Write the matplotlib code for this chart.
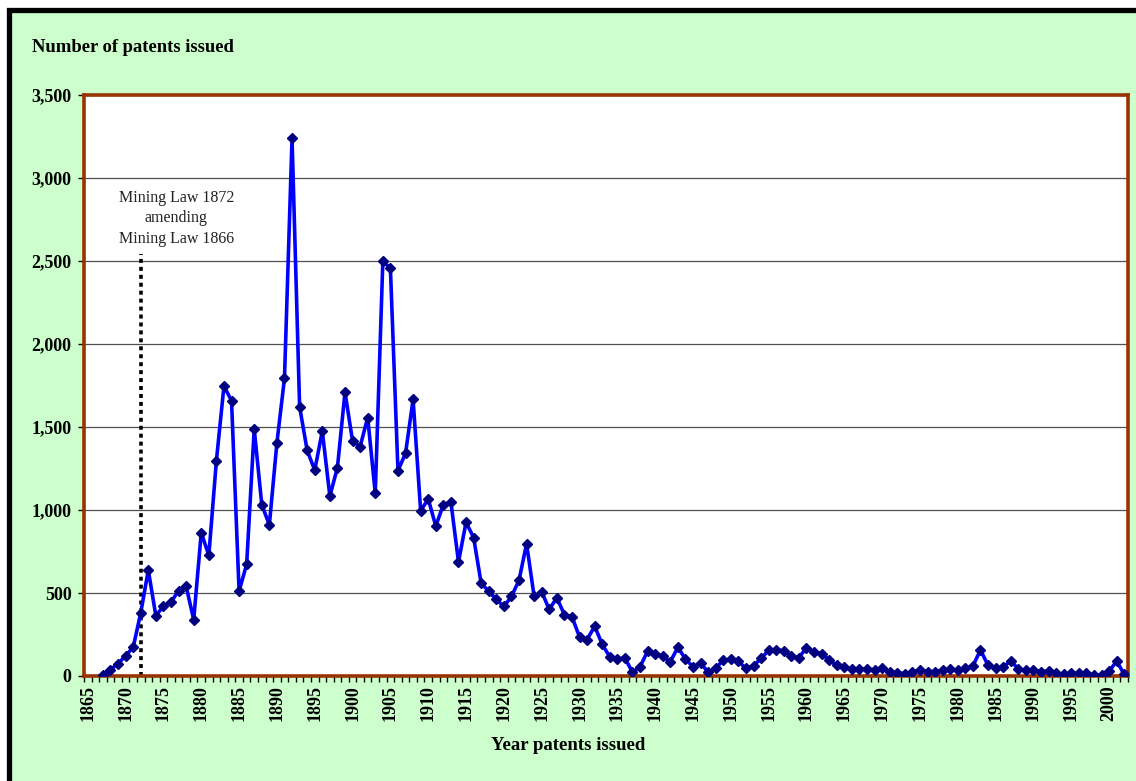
import matplotlib
matplotlib.use("Agg")
import matplotlib.pyplot as plt
from matplotlib.patches import Rectangle
from matplotlib.ticker import FixedLocator, FuncFormatter

# ---- data ----
years = list(range(1867, 2003))
patents = [
    7, 39, 74,                                            # 1867-1869
    122, 173, 380, 638, 362, 422, 445, 514, 541, 339,      # 1870s
    864, 726, 1297, 1746, 1659, 511, 673, 1488, 1032, 910, # 1880s
    1405, 1793, 3239, 1622, 1359, 1240, 1475, 1083, 1256, 1710,  # 1890s
    1415, 1382, 1557, 1101, 2497, 2458, 1237, 1341, 1666, 995,   # 1900s
    1067, 903, 1032, 1048, 687, 926, 834, 558, 511, 461,   # 1910s
    419, 479, 576, 797, 479, 507, 401, 472, 369, 357,      # 1920s
    235, 219, 300, 191, 115, 104, 108, 23, 55, 150,        # 1930s
    133, 118, 86, 173, 102, 56, 80, 22, 46, 96,            # 1940s
    100, 88, 46, 62, 106, 155, 159, 151, 120, 110,         # 1950s
    171, 145, 135, 96, 64, 54, 42, 42, 42, 36,             # 1960s
    50, 22, 20, 14, 22, 34, 26, 26, 34, 40,                # 1970s
    34, 46, 60, 157, 64, 46, 54, 92, 42, 34,               # 1980s
    38, 26, 30, 16, 12, 16, 16, 16, 6, 6,                  # 1990s
    28, 90, 10,                                            # 2000-2002
]
tick_years = list(range(1865, 2001, 5))
y_ticks = list(range(0, 3501, 500))
law_year = 1872
law_line_top = 2545
annotation = "Mining Law 1872\namending\nMining Law 1866"

W, H = 1136, 781
fig = plt.figure(figsize=(W / 100, H / 100), dpi=100)
fig.patch.set_facecolor("white")

# outer green panel with black frame (extends past right/bottom edge)
panel = Rectangle((8.5 / W, -0.05), 1.1, 1 - 9.5 / H + 0.05,
                  transform=fig.transFigure, facecolor="#CCFFCC",
                  edgecolor="black", linewidth=3.8, zorder=-10)
fig.patches.append(panel)

serif = ["Liberation Serif", "DejaVu Serif"]

ax = fig.add_axes([84 / W, 1 - 676 / H, (1128 - 84) / W, (676 - 95) / H])
ax.set_zorder(1)
ax.set_facecolor("white")
ax.set_xlim(1864.5, 2002.5)
ax.set_ylim(0, 3500)

ax.yaxis.grid(True, color="#505050", linewidth=0.9, zorder=1)
ax.set_axisbelow(True)

ax.plot(years, patents, color="#0000FF", linewidth=2.6, zorder=3,
        marker="D", markersize=5.5, markerfacecolor="#000080",
        markeredgecolor="#000080")

# annotation line and text
ax.plot([law_year, law_year], [0, law_line_top], color="black",
        linewidth=2.6, linestyle=(0, (1.1, 1.1)), dash_capstyle="butt",
        zorder=2)
ax.text(1876.7, 2757, annotation, ha="center", va="center",
        fontsize=11.5, family=serif, linespacing=1.4, color="#222222")

for s in ax.spines.values():
    s.set_color("#993300")
    s.set_linewidth(2.6)

ax.set_yticks(y_ticks)
ax.yaxis.set_major_formatter(FuncFormatter(lambda v, p: f"{int(v):,}"))
ax.tick_params(axis="y", direction="out", length=4, width=1, color="black",
               pad=5)

ax.xaxis.set_major_locator(FixedLocator(tick_years))
ax.xaxis.set_minor_locator(FixedLocator([1864.5 + k for k in range(139)]))
ax.set_xticklabels([str(y) for y in tick_years], rotation=90)
ax.tick_params(axis="x", which="major", length=0, pad=6.5)
ax.tick_params(axis="x", which="minor", direction="out", length=4,
               width=1, color="black")

for lab in ax.get_xticklabels() + ax.get_yticklabels():
    lab.set_family(serif)
    lab.set_fontweight("bold")
    lab.set_fontsize(13)

fig.text(32 / W, 1 - 47 / H, "Number of patents issued", ha="left",
         va="center", fontsize=13.4, fontweight="bold", family=serif)
fig.text(568 / W, 1 - 745 / H, "Year patents issued", ha="center",
         va="center", fontsize=13.5, fontweight="bold", family=serif)

fig.savefig("out.png", dpi=100, facecolor=fig.get_facecolor())
